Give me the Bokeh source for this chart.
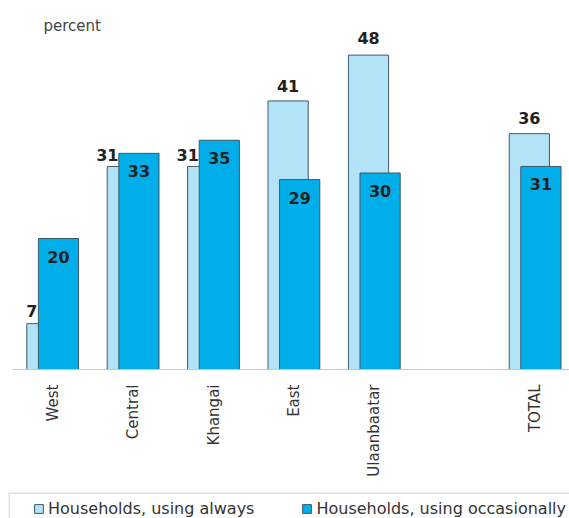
import math
from bokeh.plotting import figure
from bokeh.models import ColumnDataSource, Range1d, FixedTicker, Label, Legend, LegendItem, Spacer, Grid, Span
from bokeh.layouts import column, row
from bokeh.transform import dodge
from bokeh.embed import file_html
from bokeh.resources import INLINE
from bokeh.core.properties import value

# ---- data ----
categories = ["West", "Central", "Khangai", "East", "Ulaanbaatar", "", "TOTAL"]
always = [7, 31, 31, 41, 48, None, 36]
occasionally = [20, 33, 35, 29, 30, None, 31]
series_names = ["Households, using always", "Households, using occasionally"]
unit_label = "percent"

# ---- styles ----
LIGHT = "#b3e3f6"
DARK = "#00aeea"
EDGE = "#3e5a6a"
TEXT = "#222222"
FONT = "DejaVu Sans"
always_label_dx = [-15, -20, -20, 0, 0, None, 0]
always_label_dy = [-13, -11, -11, -15, -17, None, -16]
SLOT_PX = 80.4
UNIT_PX = 6.55
FRAME_W = 557
FRAME_H = 357

idx = [i for i, c in enumerate(categories) if c]
src = ColumnDataSource(dict(
    x=[i + 0.5 for i in idx],
    cat=[categories[i] for i in idx],
    always=[always[i] for i in idx],
    occ=[occasionally[i] for i in idx],
    always_txt=[str(always[i]) for i in idx],
    occ_txt=[str(occasionally[i]) for i in idx],
    dx=[always_label_dx[i] for i in idx],
    dy=[always_label_dy[i] for i in idx],
))

p = figure(width=569, height=492, output_backend="svg", toolbar_location=None,
           x_range=Range1d(0, FRAME_W / SLOT_PX), y_range=Range1d(0, FRAME_H / UNIT_PX),
           min_border_left=12, min_border_right=0, min_border_top=12, min_border_bottom=123,
           y_axis_location=None, outline_line_color=None)
p.xgrid.visible = False
p.ygrid.visible = False

off = 0.072
bw = 0.5
p.vbar(x=dodge("x", -off), top="always", bottom=0, width=bw, source=src,
       fill_color=LIGHT, line_color=EDGE, line_width=1)
p.vbar(x=dodge("x", off), top="occ", bottom=0, width=bw, source=src,
       fill_color=DARK, line_color=EDGE, line_width=1)

p.text(x=dodge("x", -off), y="always", text="always_txt", x_offset="dx", y_offset="dy",
       text_align="center", text_baseline="alphabetic", text_font=value(FONT),
       text_font_style="bold", text_font_size="16px", text_color=TEXT, source=src)
p.text(x=dodge("x", off), y="occ", text="occ_txt", y_offset=18,
       text_align="center", text_baseline="alphabetic", text_font=value(FONT),
       text_font_style="bold", text_font_size="16px", text_color=TEXT, source=src)

ax = p.xaxis[0]
ax.ticker = FixedTicker(ticks=[i + 0.5 for i in idx])
ax.major_label_overrides = {i + 0.5: categories[i] for i in idx}
ax.axis_line_color = "#c6c6c6"
ax.major_tick_line_color = None
ax.minor_tick_line_color = None
ax.major_tick_out = 0
ax.major_label_orientation = math.pi / 2
ax.major_label_standoff = 15
ax.major_label_text_font = FONT
ax.major_label_text_font_size = "15px"
ax.major_label_text_color = "#333333"

p.add_layout(Label(x=(43 - 12) / SLOT_PX, y=(369 - 25) / UNIT_PX, text=unit_label,
                   text_font=FONT, text_font_size="15px", text_color="#444444",
                   text_baseline="alphabetic"))

# ---- legend strip ----
LEG_W, LEG_H = 561, 26
p2 = figure(width=LEG_W, height=LEG_H, output_backend="svg", toolbar_location=None,
            x_range=Range1d(0, LEG_W), y_range=Range1d(0, LEG_H),
            min_border_left=0, min_border_top=0, min_border_right=0, min_border_bottom=0,
            x_axis_location=None, y_axis_location=None,
            border_fill_color="white", background_fill_color="white",
            outline_line_color=None)
for g in list(p2.center):
    if isinstance(g, Grid):
        g.visible = False
p2.add_layout(Span(location=LEG_H - 0.5, dimension="width", line_color="#c8c8c8", line_width=1))
p2.add_layout(Span(location=0.5, dimension="height", line_color="#c8c8c8", line_width=1))
nan = float("nan")
r1 = p2.vbar(x=[nan], top=[nan], width=0.1, fill_color=LIGHT, line_color=EDGE)
r2 = p2.vbar(x=[nan], top=[nan], width=0.1, fill_color=DARK, line_color=EDGE)
legend = Legend(items=[LegendItem(label=series_names[0], renderers=[r1]),
                       LegendItem(label=series_names[1], renderers=[r2])],
                location=(25, 0), orientation="horizontal", padding=0, margin=0,
                spacing=47, glyph_width=11, glyph_height=11, label_height=11,
                label_standoff=4, border_line_color=None, background_fill_alpha=0,
                label_text_font=FONT, label_text_font_size="16px",
                label_text_color="#333333")
p2.add_layout(legend)

layout = column(p, row(Spacer(width=8, height=LEG_H), p2, spacing=0), spacing=0)
open("out.html", "w").write(file_html(layout, INLINE))
